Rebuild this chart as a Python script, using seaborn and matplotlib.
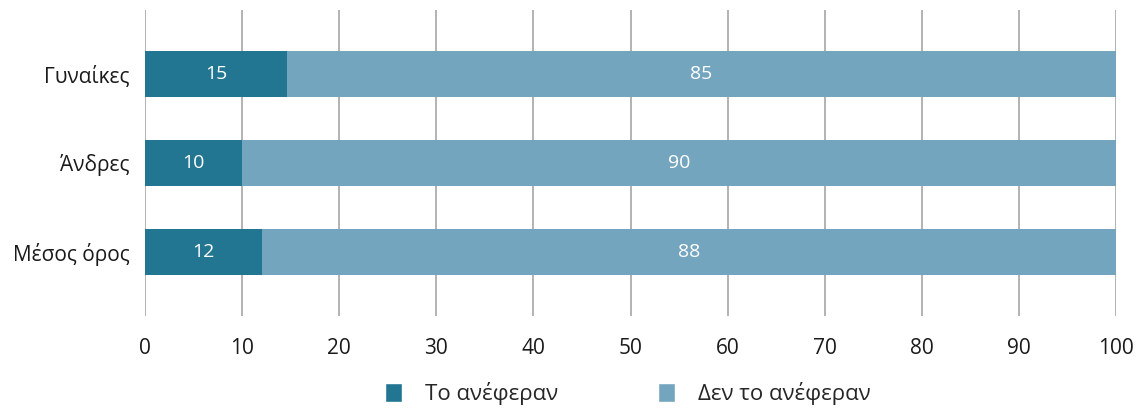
import pandas as pd
import matplotlib
matplotlib.use("Agg")
import matplotlib.pyplot as plt
from matplotlib.patches import Patch
import seaborn as sns

# datos
categorias = ["Γυναίκες", "Άνδρες", "Μέσος όρος"]
to_aneferan = [14.6, 10.0, 12.0]
den_to_aneferan = [85.4, 90.0, 88.0]
etiquetas_to = ["15", "10", "12"]
etiquetas_den = ["85", "90", "88"]
series = ["Το ανέφεραν", "Δεν το ανέφεραν"]
xticks = [0, 10, 20, 30, 40, 50, 60, 70, 80, 90, 100]

c_oscuro = "#237691"
c_claro = "#74A5BE"

df = pd.DataFrame({"cat": categorias, "to": to_aneferan, "den": den_to_aneferan})
df["total"] = df["to"] + df["den"]

sns.set_style("white")
plt.rcParams["font.family"] = ["Open Sans", "DejaVu Sans"]

fig = plt.figure(figsize=(11.38, 4.08), dpi=100)
ax = fig.add_axes([0.1274, 0.2255, 0.8533, 0.75])

# barra completa (clara) y encima la parte oscura
sns.barplot(data=df, x="total", y="cat", color=c_claro, width=0.52,
            saturation=1, linewidth=0, ax=ax, zorder=2)
sns.barplot(data=df, x="to", y="cat", color=c_oscuro, width=0.52,
            saturation=1, linewidth=0, ax=ax, zorder=3)

for i, row in df.iterrows():
    ax.text(row["to"] / 2, i, etiquetas_to[i], ha="center", va="center",
            color="white", fontsize=14, zorder=4)
    ax.text(row["to"] + row["den"] / 2, i, etiquetas_den[i], ha="center",
            va="center", color="white", fontsize=14, zorder=4)

ax.set_xlim(0, 100)
ax.set_ylim(2.72, -0.72)
ax.set_xticks(xticks)
ax.set_xticklabels([str(t) for t in xticks], fontsize=15, color="#1a1a1a")
ax.tick_params(axis="x", length=0, pad=16)
ax.tick_params(axis="y", length=0, pad=11, labelsize=15, labelcolor="#1a1a1a")
ax.set_xlabel("")
ax.set_ylabel("")
ax.grid(axis="x", color="#A6A6A6", linewidth=1.2)
ax.grid(axis="y", visible=False)
ax.set_axisbelow(True)
for s in ax.spines.values():
    s.set_visible(False)

handles = [Patch(facecolor=c_oscuro), Patch(facecolor=c_claro)]
fig.legend(handles, series, loc="center", bbox_to_anchor=(0.552, 0.035),
           ncol=2, frameon=False, fontsize=16, handlelength=0.75,
           handleheight=0.9, handletextpad=1.05, columnspacing=4.5)

fig.savefig("out.png", dpi=100)
